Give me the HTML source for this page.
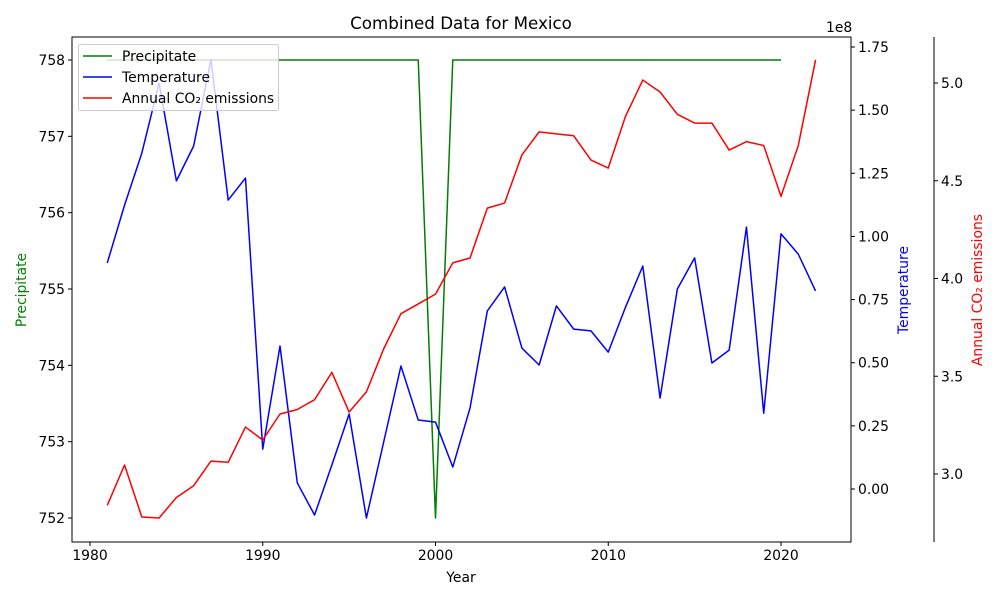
<!DOCTYPE html>
<html><head><meta charset="utf-8"><style>
body{margin:0;background:#fff;font-family:"Liberation Sans","DejaVu Sans",sans-serif;}
svg text{font-family:"DejaVu Sans","Liberation Sans",sans-serif;}
</style></head><body>
<svg id="chart" width="1000" height="600" viewBox="0 0 1000 600" xmlns="http://www.w3.org/2000/svg"></svg>
<script>
const years = [1981,1982,1983,1984,1985,1986,1987,1988,1989,1990,1991,1992,1993,1994,1995,1996,1997,1998,1999,2000,2001,2002,2003,2004,2005,2006,2007,2008,2009,2010,2011,2012,2013,2014,2015,2016,2017,2018,2019,2020,2021,2022];
const precipYears = [1981,1982,1983,1984,1985,1986,1987,1988,1989,1990,1991,1992,1993,1994,1995,1996,1997,1998,1999,2000,2001,2002,2003,2004,2005,2006,2007,2008,2009,2010,2011,2012,2013,2014,2015,2016,2017,2018,2019,2020];
const precipValues = [758,758,758,758,758,758,758,758,758,758,758,758,758,758,758,758,758,758,758,752,758,758,758,758,758,758,758,758,758,758,758,758,758,758,758,758,758,758,758,758];
const tempValues = [0.895,1.124,1.33,1.607,1.22,1.358,1.70,1.144,1.231,0.158,0.566,0.024,-0.103,0.095,0.297,-0.115,0.186,0.487,0.273,0.265,0.087,0.321,0.705,0.80,0.558,0.491,0.725,0.633,0.626,0.542,0.72,0.883,0.36,0.792,0.915,0.499,0.55,1.037,0.30,1.01,0.93,0.784];
const co2Values = [2.84,3.046,2.78,2.775,2.88,2.94,3.066,3.06,3.24,3.174,3.307,3.33,3.38,3.52,3.317,3.42,3.64,3.82,3.87,3.92,4.08,4.105,4.36,4.386,4.632,4.75,4.74,4.73,4.606,4.565,4.83,5.015,4.954,4.84,4.795,4.795,4.657,4.70,4.68,4.42,4.68,5.118];
const xTicks = [1980,1990,2000,2010,2020];
const precipTicks = [752,753,754,755,756,757,758];
const tempTicks = [0,0.25,0.5,0.75,1.0,1.25,1.5,1.75];
const co2Ticks = [3.0,3.5,4.0,4.5,5.0];

const NS="http://www.w3.org/2000/svg";
const svg=document.getElementById('chart');
const L=72,R=851,T=37,B=542;
const FS=13.9;
const xS=v=>90+(v-1980)*(781-90)/40;
const yP=v=>518-(v-752)*(518-60)/6;
const yT=v=>489-v*(489-47)/1.75;
const yC=v=>474-(v-3)*(474-83)/2;
function el(tag,attrs,text){const e=document.createElementNS(NS,tag);for(const k in attrs)e.setAttribute(k,attrs[k]);if(text!==undefined)e.textContent=text;svg.appendChild(e);return e;}

function line(xs,ys,fx,fy,color,name){
  const d=xs.map((x,i)=>(i?'L':'M')+fx(x).toFixed(2)+','+fy(ys[i]).toFixed(2)).join(' ');
  const p=el('path',{d:d,fill:'none',stroke:color,'stroke-width':1.5,'stroke-linejoin':'round'});
  
  
}
line(precipYears,precipValues,xS,yP,'#008000','precipitate-line');
line(years,tempValues,xS,yT,'#0000ff','temperature-line');
line(years,co2Values,xS,yC,'#ff0000','co2-line');

const fr=el('rect',{x:L,y:T,width:R-L,height:B-T,fill:'none',stroke:'#000','stroke-width':1});


const sp=el('line',{x1:934,y1:T,x2:934,y2:B,stroke:'#000','stroke-width':1});



xTicks.forEach(t=>{const x=xS(t);
  el('line',{x1:x,y1:B,x2:x,y2:B+4,stroke:'#000'});
  const tx=el('text',{x:x,y:B+18,'font-size':FS,'text-anchor':'middle'},String(t));
  
  
});
precipTicks.forEach(t=>{const y=yP(t);
  el('line',{x1:L-4,y1:y,x2:L,y2:y,stroke:'#000'});
  const tx=el('text',{x:L-7,y:y+5,'font-size':FS,'text-anchor':'end'},String(t));
  
  
});
tempTicks.forEach(t=>{const y=yT(t);
  el('line',{x1:R,y1:y,x2:R+4,y2:y,stroke:'#000'});
  const tx=el('text',{x:R+7,y:y+5,'font-size':FS},t.toFixed(2));
  
  
});
co2Ticks.forEach(t=>{const y=yC(t);
  el('line',{x1:934,y1:y,x2:938,y2:y,stroke:'#000'});
  const tx=el('text',{x:941,y:y+5,'font-size':FS},t.toFixed(1));
  
  
});
let e;
e=el('text',{x:826,y:32,'font-size':FS,'text-anchor':'start'},'1e8');


e=el('text',{x:461,y:29,'font-size':16.7,'text-anchor':'middle'},'Combined Data for Mexico');


e=el('text',{x:461,y:582,'font-size':FS,'text-anchor':'middle'},'Year');


e=el('text',{x:26,y:290,'font-size':FS,'text-anchor':'middle',fill:'#008000',transform:'rotate(-90 26 290)'},'Precipitate');


e=el('text',{x:908,y:290,'font-size':FS,'text-anchor':'middle',fill:'#0000ff',transform:'rotate(-90 908 290)'},'Temperature');


e=el('text',{x:982,y:290,'font-size':FS,'text-anchor':'middle',fill:'#ff0000',transform:'rotate(-90 982 290)'},'Annual CO₂ emissions');



e=el('rect',{x:78.5,y:44.5,width:200,height:66,rx:2,fill:'#fff','fill-opacity':0.8,stroke:'#ccc'});


[['Precipitate','#008000'],['Temperature','#0000ff'],['Annual CO₂ emissions','#ff0000']].forEach((it,i)=>{
  const y=56+i*21;
  el('line',{x1:83,y1:y,x2:112,y2:y,stroke:it[1],'stroke-width':1.5});
  const t=el('text',{x:122,y:y+5,'font-size':FS},it[0]);
  
  
});
</script>
</body></html>
